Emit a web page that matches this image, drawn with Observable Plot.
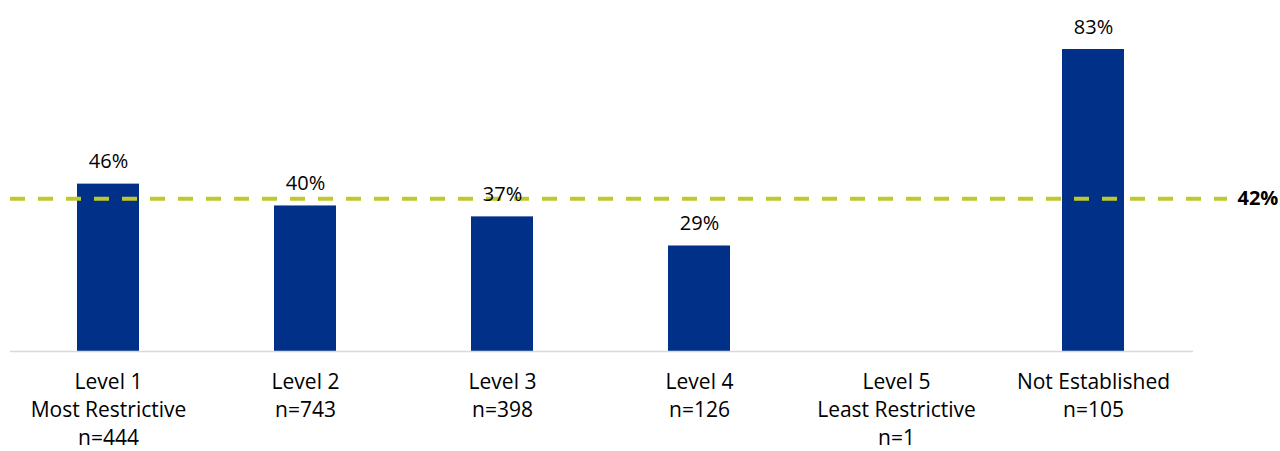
<!DOCTYPE html>
<html>
<head>
<meta charset="utf-8">
<script src="https://cdn.jsdelivr.net/npm/d3@7"></script>
<script src="https://cdn.jsdelivr.net/npm/@observablehq/plot@0.6"></script>
<style>
  html, body { margin: 0; padding: 0; background: #fff; }
  #chart svg { display: block; }
</style>
</head>
<body>
<div id="chart"></div>
<script>
const categories = ["Level 1", "Level 2", "Level 3", "Level 4", "Level 5", "Not Established"];
const subLabels = ["Most Restrictive\nn=444", "n=743", "n=398", "n=126", "Least Restrictive\nn=1", "n=105"];
const values = [46, 40, 37, 29, null, 83];
const average = 42;

const data = categories.map((c, i) => ({
  category: c,
  value: values[i],
  label: c + "\n" + subLabels[i]
}));
const barData = data.filter(d => d.value != null);

const font = "'Open Sans', 'Liberation Sans', sans-serif";

const chart = Plot.plot({
  width: 1280,
  height: 451,
  marginLeft: 10,
  marginRight: 53,
  marginTop: 49,
  marginBottom: 100,
  style: { fontFamily: font, background: "#fff" },
  x: { domain: categories, range: [10, 1192], paddingInner: 0.685, paddingOuter: 0.3425, axis: null },
  y: { domain: [0, 83], axis: null },
  marks: [
    Plot.barY(barData, { x: "category", y: "value", fill: "#003087" }),
    Plot.ruleY([0], { stroke: "#d9d9d9", strokeWidth: 1.5, insetRight: 34 }),
    Plot.ruleY([average], { stroke: "#bec92f", strokeWidth: 4, strokeDasharray: "15,13" }),
    Plot.text([average], { y: d => d, frameAnchor: "right", dx: 10, textAnchor: "start", text: d => d + "%", fontWeight: "bold", fontSize: 20, fill: "#000" }),
    Plot.text(barData, { x: "category", y: "value", text: d => d.value + "%", lineAnchor: "bottom", dy: -16, fontSize: 20, fill: "#000" }),
    Plot.text(data, { x: "category", y: 0, text: "label", lineAnchor: "top", dy: 18, lineHeight: 1.333, fontSize: 21, fill: "#000" })
  ]
});
document.getElementById("chart").append(chart);
</script>
</body>
</html>
